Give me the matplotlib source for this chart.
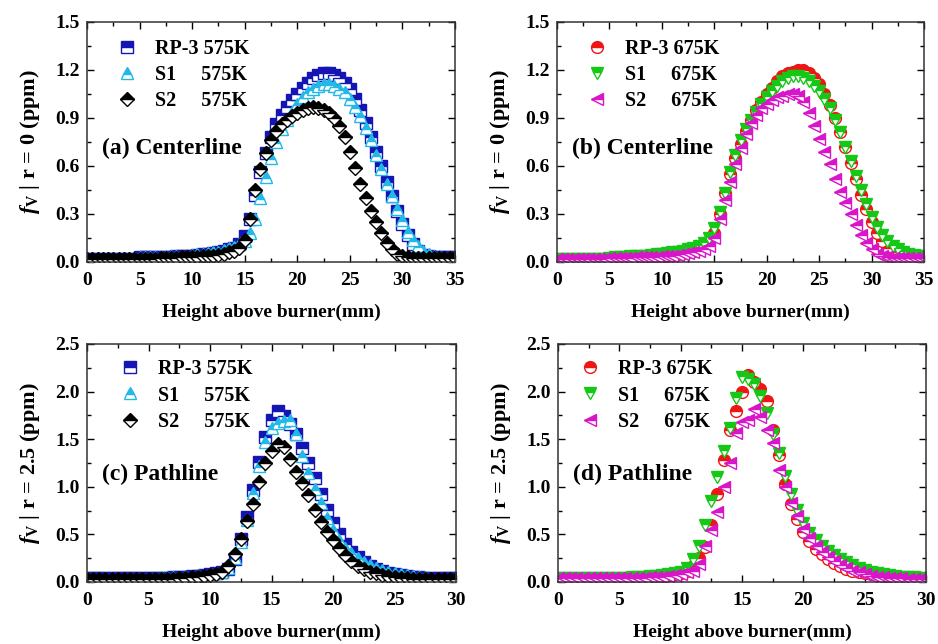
import numpy as np
import matplotlib
matplotlib.use("Agg")
import matplotlib.pyplot as plt
from matplotlib.ticker import MultipleLocator, FormatStrFormatter

plt.rcParams['font.family'] = ['Liberation Serif', 'DejaVu Serif']
plt.rcParams['font.weight'] = 'bold'
plt.rcParams['mathtext.fontset'] = 'custom'
plt.rcParams['mathtext.bf'] = 'Liberation Serif:bold'
plt.rcParams['mathtext.rm'] = 'Liberation Serif:bold'
plt.rcParams['mathtext.it'] = 'Liberation Serif:italic:bold'
plt.rcParams['mathtext.bfit'] = 'Liberation Serif:italic:bold'

# ---------------- data ----------------
x_center = np.arange(0, 35.01, 0.5)   # 71 points, mm
x_path = np.arange(0, 30.01, 0.5)     # 61 points, mm

rp3_575_center = [0.02, 0.02, 0.02, 0.02, 0.02, 0.02, 0.02, 0.02, 0.02, 0.02,
                  0.03, 0.03, 0.03, 0.03, 0.03, 0.03, 0.03, 0.035, 0.035, 0.04,
                  0.04, 0.045, 0.05, 0.05, 0.055, 0.06, 0.07, 0.08, 0.09, 0.11,
                  0.16, 0.27, 0.42, 0.56, 0.68, 0.78, 0.86, 0.92, 0.97, 1.01,
                  1.05, 1.09, 1.12, 1.15, 1.17, 1.18, 1.18, 1.17, 1.15, 1.12,
                  1.08, 1.02, 0.95, 0.87, 0.78, 0.69, 0.60, 0.50, 0.41, 0.32,
                  0.24, 0.17, 0.11, 0.07, 0.045, 0.035, 0.03, 0.03, 0.03, 0.03,
                  0.03]
s1_575_center = [0.025, 0.025, 0.025, 0.025, 0.025, 0.025, 0.025, 0.025, 0.025, 0.025,
                 0.03, 0.03, 0.03, 0.03, 0.03, 0.035, 0.035, 0.035, 0.04, 0.04,
                 0.045, 0.05, 0.05, 0.055, 0.06, 0.065, 0.075, 0.085, 0.095, 0.11,
                 0.13, 0.18, 0.27, 0.40, 0.53, 0.65, 0.75, 0.83, 0.89, 0.94,
                 0.99, 1.03, 1.06, 1.08, 1.10, 1.11, 1.11, 1.10, 1.08, 1.06,
                 1.02, 0.97, 0.91, 0.84, 0.76, 0.67, 0.58, 0.49, 0.41, 0.33,
                 0.26, 0.19, 0.14, 0.10, 0.07, 0.05, 0.04, 0.035, 0.03, 0.03,
                 0.03]
s2_575_center = [0.02, 0.02, 0.02, 0.02, 0.02, 0.02, 0.02, 0.02, 0.02, 0.02,
                 0.02, 0.02, 0.02, 0.02, 0.025, 0.025, 0.025, 0.025, 0.03, 0.03,
                 0.03, 0.03, 0.035, 0.035, 0.04, 0.045, 0.05, 0.06, 0.07, 0.09,
                 0.14, 0.27, 0.45, 0.58, 0.68, 0.76, 0.82, 0.86, 0.89, 0.91,
                 0.93, 0.95, 0.96, 0.97, 0.96, 0.95, 0.93, 0.90, 0.85, 0.78,
                 0.69, 0.59, 0.49, 0.40, 0.32, 0.25, 0.18, 0.12, 0.08, 0.05,
                 0.035, 0.03, 0.025, 0.025, 0.025, 0.025, 0.025, 0.025, 0.025, 0.025,
                 0.025]
rp3_675_center = [0.02, 0.02, 0.02, 0.02, 0.02, 0.02, 0.02, 0.02, 0.02, 0.02,
                  0.025, 0.025, 0.025, 0.025, 0.025, 0.03, 0.03, 0.03, 0.03, 0.03,
                  0.035, 0.04, 0.045, 0.05, 0.055, 0.06, 0.07, 0.08, 0.095, 0.12,
                  0.18, 0.30, 0.43, 0.55, 0.65, 0.74, 0.82, 0.89, 0.95, 1.00,
                  1.05, 1.09, 1.13, 1.16, 1.18, 1.19, 1.20, 1.20, 1.18, 1.15,
                  1.11, 1.05, 0.98, 0.90, 0.81, 0.72, 0.62, 0.52, 0.42, 0.33,
                  0.25, 0.18, 0.13, 0.09, 0.065, 0.05, 0.04, 0.035, 0.03, 0.03,
                  0.03]
s1_675_center = [0.02, 0.02, 0.02, 0.02, 0.02, 0.02, 0.02, 0.02, 0.02, 0.02,
                 0.025, 0.03, 0.03, 0.03, 0.035, 0.035, 0.04, 0.04, 0.045, 0.05,
                 0.05, 0.055, 0.06, 0.065, 0.07, 0.08, 0.09, 0.10, 0.12, 0.15,
                 0.21, 0.31, 0.43, 0.56, 0.67, 0.76, 0.83, 0.89, 0.94, 0.99,
                 1.03, 1.07, 1.10, 1.13, 1.15, 1.16, 1.16, 1.15, 1.13, 1.10,
                 1.07, 1.02, 0.96, 0.89, 0.81, 0.72, 0.63, 0.54, 0.45, 0.36,
                 0.28, 0.22, 0.17, 0.13, 0.10, 0.08, 0.06, 0.05, 0.045, 0.04,
                 0.035]
s2_675_center = [0.02, 0.02, 0.02, 0.02, 0.02, 0.02, 0.02, 0.02, 0.02, 0.02,
                 0.025, 0.025, 0.025, 0.025, 0.025, 0.03, 0.03, 0.03, 0.03, 0.03,
                 0.035, 0.04, 0.04, 0.045, 0.05, 0.055, 0.06, 0.07, 0.08, 0.10,
                 0.15, 0.27, 0.39, 0.50, 0.61, 0.71, 0.80, 0.87, 0.92, 0.96,
                 0.99, 1.01, 1.03, 1.04, 1.05, 1.05, 1.04, 1.00, 0.93, 0.85,
                 0.77, 0.69, 0.61, 0.52, 0.44, 0.37, 0.30, 0.23, 0.17, 0.12,
                 0.08, 0.05, 0.035, 0.03, 0.025, 0.025, 0.025, 0.025, 0.025, 0.025,
                 0.025]

rp3_575_path = [0.04, 0.04, 0.04, 0.04, 0.04, 0.04, 0.04, 0.04, 0.04, 0.04,
                0.04, 0.04, 0.045, 0.045, 0.05, 0.05, 0.055, 0.06, 0.065, 0.07,
                0.08, 0.09, 0.11, 0.14, 0.24, 0.45, 0.68, 0.97, 1.26, 1.52,
                1.70, 1.80, 1.74, 1.66, 1.55, 1.41, 1.25, 1.09, 0.92, 0.76,
                0.62, 0.50, 0.40, 0.32, 0.26, 0.21, 0.17, 0.14, 0.115, 0.095,
                0.08, 0.07, 0.06, 0.055, 0.05, 0.045, 0.04, 0.04, 0.04, 0.04,
                0.04]
s1_575_path = [0.045, 0.045, 0.045, 0.045, 0.045, 0.045, 0.045, 0.045, 0.045, 0.045,
               0.045, 0.045, 0.05, 0.05, 0.055, 0.055, 0.06, 0.065, 0.07, 0.075,
               0.08, 0.09, 0.11, 0.15, 0.25, 0.42, 0.65, 0.93, 1.22, 1.47,
               1.62, 1.67, 1.69, 1.70, 1.55, 1.32, 1.14, 0.98, 0.83, 0.67,
               0.55, 0.44, 0.36, 0.30, 0.25, 0.21, 0.18, 0.15, 0.125, 0.105,
               0.09, 0.08, 0.07, 0.06, 0.055, 0.05, 0.045, 0.045, 0.04, 0.04,
               0.04]
s2_575_path = [0.03, 0.03, 0.03, 0.03, 0.03, 0.03, 0.03, 0.03, 0.03, 0.03,
               0.03, 0.03, 0.03, 0.035, 0.035, 0.04, 0.045, 0.05, 0.055, 0.06,
               0.07, 0.08, 0.10, 0.17, 0.29, 0.45, 0.64, 0.82, 1.05, 1.25,
               1.38, 1.45, 1.42, 1.29, 1.16, 1.04, 0.91, 0.76, 0.63, 0.53,
               0.44, 0.36, 0.28, 0.22, 0.17, 0.14, 0.11, 0.09, 0.07, 0.06,
               0.05, 0.045, 0.04, 0.035, 0.035, 0.03, 0.03, 0.03, 0.03, 0.03,
               0.03]
rp3_675_path = [0.04, 0.04, 0.04, 0.04, 0.04, 0.04, 0.04, 0.04, 0.04, 0.04,
                0.04, 0.04, 0.045, 0.045, 0.05, 0.05, 0.055, 0.06, 0.07, 0.08,
                0.09, 0.12, 0.17, 0.25, 0.37, 0.60, 0.92, 1.28, 1.60, 1.80,
                2.00, 2.17, 2.10, 2.03, 1.90, 1.60, 1.33, 1.03, 0.82, 0.66,
                0.53, 0.43, 0.35, 0.29, 0.24, 0.20, 0.17, 0.14, 0.12, 0.10,
                0.09, 0.08, 0.07, 0.06, 0.055, 0.05, 0.05, 0.045, 0.04, 0.04,
                0.04]
s1_675_path = [0.04, 0.04, 0.04, 0.04, 0.04, 0.04, 0.04, 0.04, 0.04, 0.04,
               0.045, 0.045, 0.05, 0.05, 0.055, 0.06, 0.065, 0.07, 0.08, 0.09,
               0.11, 0.15, 0.24, 0.38, 0.60, 0.85, 1.10, 1.38, 1.62, 1.93,
               2.15, 2.13, 2.08, 1.95, 1.77, 1.55, 1.35, 1.11, 0.92, 0.76,
               0.62, 0.51, 0.44, 0.38, 0.33, 0.28, 0.24, 0.21, 0.18, 0.15,
               0.13, 0.11, 0.095, 0.08, 0.07, 0.06, 0.055, 0.05, 0.05, 0.045,
               0.04]
s2_675_path = [0.04, 0.04, 0.04, 0.04, 0.04, 0.04, 0.04, 0.04, 0.04, 0.04,
               0.04, 0.04, 0.04, 0.045, 0.045, 0.05, 0.05, 0.055, 0.06, 0.07,
               0.08, 0.10, 0.12, 0.19, 0.38, 0.55, 0.74, 1.00, 1.25, 1.56,
               1.68, 1.70, 1.82, 1.73, 1.60, 1.46, 1.18, 1.00, 0.83, 0.69,
               0.56, 0.46, 0.38, 0.31, 0.26, 0.22, 0.18, 0.15, 0.12, 0.10,
               0.08, 0.065, 0.055, 0.05, 0.045, 0.04, 0.04, 0.035, 0.035, 0.03,
               0.03]

labels_575 = ['RP-3 575K', 'S1     575K', 'S2     575K']
labels_675 = ['RP-3 675K', 'S1     675K', 'S2     675K']
panel_titles = ['(a) Centerline', '(b) Centerline', '(c) Pathline', '(d) Pathline']
ylabels = [r'$\mathbfit{f}_{\mathbf{V}}$ | r = 0 (ppm)',
           r'$\mathbfit{f}_{\mathbf{V}}$ | r = 2.5 (ppm)']
xlabel = 'Height above burner(mm)'

# ---------------- styles ----------------
style_575 = [dict(marker='s', color='#1515B5', ms=8.0),
             dict(marker='^', color='#22B8E8', ms=9.0),
             dict(marker='D', color='#000000', ms=7.5)]
style_675 = [dict(marker='o', color='#EE1515', ms=8.5),
             dict(marker='v', color='#15C815', ms=9.0),
             dict(marker='<', color='#D815C8', ms=9.0)]

fig = plt.figure(figsize=(9.38, 6.44), dpi=100)
W, H = 938, 644
boxes = [(87, 22, 455, 262), (557, 22, 924, 262),
         (87, 344, 456, 582), (558, 344, 926, 582)]
axes = []
for (l, t, r, b) in boxes:
    axes.append(fig.add_axes([l / W, 1 - b / H, (r - l) / W, (b - t) / H]))

leg_anchor = [(0.075, 0.93), (0.075, 0.93), (0.084, 0.935), (0.054, 0.935)]
title_y = [0.475, 0.475, 0.45, 0.45]

panels = [
    (axes[0], x_center, [rp3_575_center, s1_575_center, s2_575_center], style_575, labels_575, 35, 1.5, 0.3, ylabels[0]),
    (axes[1], x_center, [rp3_675_center, s1_675_center, s2_675_center], style_675, labels_675, 35, 1.5, 0.3, ylabels[0]),
    (axes[2], x_path, [rp3_575_path, s1_575_path, s2_575_path], style_575, labels_575, 30, 2.5, 0.5, ylabels[1]),
    (axes[3], x_path, [rp3_675_path, s1_675_path, s2_675_path], style_675, labels_675, 30, 2.5, 0.5, ylabels[1]),
]

for i, (ax, xs, series, styles, labels, xmax, ymax, ystep, ylab) in enumerate(panels):
    for ys, st, lab in zip(series, styles, labels):
        ax.plot(xs, ys, linestyle='none', marker=st['marker'], markersize=st['ms'],
                markeredgecolor=st['color'], markerfacecolor=st['color'],
                markerfacecoloralt='white', fillstyle='top',
                markeredgewidth=1.0, label=lab, clip_on=True)
    ax.set_xlim(0, xmax)
    ax.set_ylim(0, ymax)
    ax.xaxis.set_major_locator(MultipleLocator(5))
    ax.xaxis.set_minor_locator(MultipleLocator(2.5))
    ax.yaxis.set_major_locator(MultipleLocator(ystep))
    ax.yaxis.set_minor_locator(MultipleLocator(ystep / 2))
    ax.yaxis.set_major_formatter(FormatStrFormatter('%.1f'))
    ax.tick_params(which='both', direction='in', top=True, right=True,
                   labelsize=14, width=1.0)
    ax.tick_params(axis='x', which='major', pad=7.5)
    ax.tick_params(axis='y', which='major', pad=5)
    ax.tick_params(which='major', length=5)
    ax.tick_params(which='minor', length=3)
    for sp in ax.spines.values():
        sp.set_linewidth(1.1)
        sp.set_color('#333333')
    ax.set_xlabel(xlabel, fontsize=14, fontweight='bold', labelpad=10)
    ax.set_ylabel(ylab, fontsize=16, fontweight='bold', labelpad=10)
    ax.legend(loc='upper left', bbox_to_anchor=leg_anchor[i], frameon=False,
              borderpad=0, borderaxespad=0, handlelength=1.2,
              handletextpad=0.8, labelspacing=0.3,
              prop=dict(family='Liberation Serif', weight='bold', size=14.5))
    ax.text(0.04, title_y[i], panel_titles[i], transform=ax.transAxes,
            fontsize=17, fontweight='bold', va='center', ha='left')

fig.savefig('out.png', dpi=100)
